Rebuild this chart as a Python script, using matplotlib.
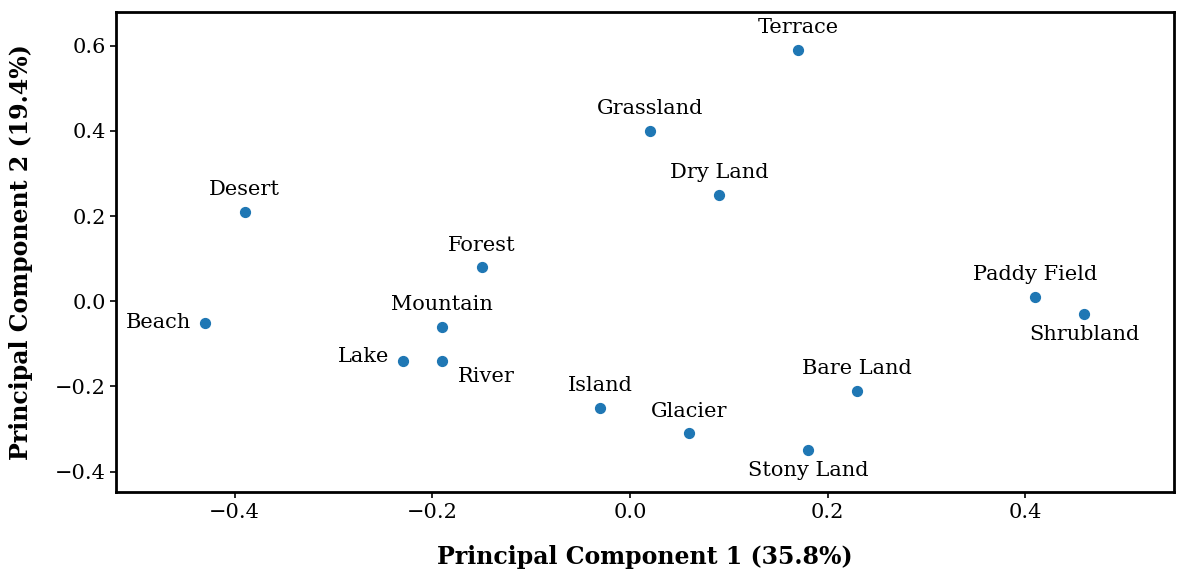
import matplotlib
matplotlib.use("Agg")
import matplotlib.pyplot as plt

plt.rcParams['font.family'] = 'DejaVu Serif'

names = ["Terrace", "Grassland", "Dry Land", "Desert", "Forest", "Paddy Field",
         "Shrubland", "Beach", "Mountain", "Lake", "River", "Bare Land",
         "Island", "Glacier", "Stony Land"]
pc1 = [0.17, 0.02, 0.09, -0.39, -0.15, 0.41, 0.46, -0.43, -0.19, -0.23, -0.19, 0.23, -0.03, 0.06, 0.18]
pc2 = [0.59, 0.40, 0.25, 0.21, 0.08, 0.01, -0.03, -0.05, -0.06, -0.14, -0.14, -0.21, -0.25, -0.31, -0.35]

# label placement (offset in points, alignment)
where = {"Shrubland": (0, -8, 'center', 'top'),
         "Stony Land": (0, -8, 'center', 'top'),
         "Beach": (-10, 0, 'right', 'center'),
         "Lake": (-10, 3, 'right', 'center'),
         "River": (11, -11, 'left', 'center')}

fig, ax = plt.subplots(figsize=(11.85, 5.78), dpi=100)
ax.scatter(pc1, pc2, s=50, color='#1f77b4', zorder=3)
for n, x, y in zip(names, pc1, pc2):
    dx, dy, ha, va = where.get(n, (0, 9, 'center', 'bottom'))
    ax.annotate(n, (x, y), xytext=(dx, dy), textcoords='offset points',
                ha=ha, va=va, fontsize=15)

ax.set_xlim(-0.52, 0.551)
ax.set_ylim(-0.449, 0.68)
ax.set_xticks([-0.4, -0.2, 0.0, 0.2, 0.4])
ax.set_yticks([-0.4, -0.2, 0.0, 0.2, 0.4, 0.6])
ax.tick_params(labelsize=15, width=1.2, length=4)
for s in ax.spines.values():
    s.set_linewidth(2)
ax.set_xlabel("Principal Component 1 (35.8%)", fontsize=17, fontweight='bold', labelpad=17)
ax.set_ylabel("Principal Component 2 (19.4%)", fontsize=17, fontweight='bold', labelpad=16)

fig.subplots_adjust(left=0.098, right=0.991, top=0.98, bottom=0.148)
fig.savefig("out.png", dpi=100)
